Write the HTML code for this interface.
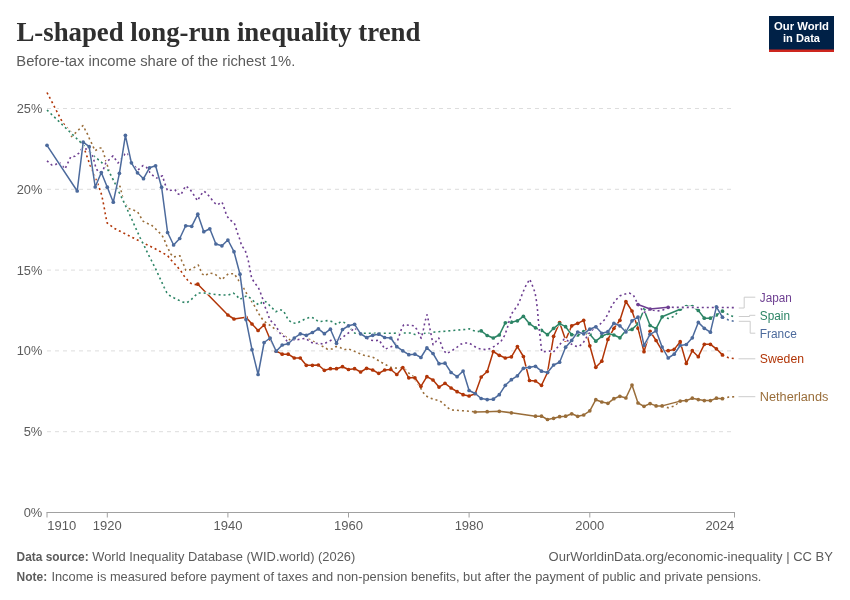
<!DOCTYPE html>
<html lang="en"><head><meta charset="utf-8"><title>L-shaped long-run inequality trend</title>
<style>html,body{margin:0;padding:0;background:#fff}svg{display:block}text{font-family:"Liberation Sans", sans-serif}.ttl{font-family:"Liberation Serif", serif;font-weight:700}.b{font-weight:700}</style></head><body>
<svg width="850" height="600" viewBox="0 0 850 600">
<rect width="850" height="600" fill="#fff"/>
<text class="ttl" x="16.4" y="40.5" font-size="27" fill="#2f2f2f" textLength="404" lengthAdjust="spacingAndGlyphs">L-shaped long-run inequality trend</text>
<text x="16.3" y="66.2" font-size="14.7" fill="#5b5b5b" textLength="279" lengthAdjust="spacingAndGlyphs">Before-tax income share of the richest 1%.</text>
<g><rect x="769" y="16" width="65" height="36" fill="#002147"/><rect x="769" y="49.5" width="65" height="2.5" fill="#ce261e"/>
<text x="801.5" y="30.2" text-anchor="middle" font-size="11.4" font-weight="700" fill="#fff" textLength="55" lengthAdjust="spacingAndGlyphs">Our World</text>
<text x="801.5" y="42.2" text-anchor="middle" font-size="11.4" font-weight="700" fill="#fff" textLength="37" lengthAdjust="spacingAndGlyphs">in Data</text></g>
<line x1="47" x2="734" y1="431.7" y2="431.7" stroke="#dddddd" stroke-dasharray="4,4"/>
<line x1="47" x2="734" y1="350.9" y2="350.9" stroke="#dddddd" stroke-dasharray="4,4"/>
<line x1="47" x2="734" y1="270.1" y2="270.1" stroke="#dddddd" stroke-dasharray="4,4"/>
<line x1="47" x2="734" y1="189.3" y2="189.3" stroke="#dddddd" stroke-dasharray="4,4"/>
<line x1="47" x2="734" y1="108.5" y2="108.5" stroke="#dddddd" stroke-dasharray="4,4"/>
<text x="23.7" y="517" font-size="13.2" fill="#5b5b5b" textLength="18.6" lengthAdjust="spacingAndGlyphs">0%</text>
<text x="23.7" y="436.2" font-size="13.2" fill="#5b5b5b" textLength="18.6" lengthAdjust="spacingAndGlyphs">5%</text>
<text x="16.7" y="355.4" font-size="13.2" fill="#5b5b5b" textLength="25.6" lengthAdjust="spacingAndGlyphs">10%</text>
<text x="16.7" y="274.6" font-size="13.2" fill="#5b5b5b" textLength="25.6" lengthAdjust="spacingAndGlyphs">15%</text>
<text x="16.7" y="193.8" font-size="13.2" fill="#5b5b5b" textLength="25.6" lengthAdjust="spacingAndGlyphs">20%</text>
<text x="16.7" y="113" font-size="13.2" fill="#5b5b5b" textLength="25.6" lengthAdjust="spacingAndGlyphs">25%</text>
<line x1="46.5" x2="735" y1="512.5" y2="512.5" stroke="#a1a1a1" stroke-width="1"/>
<line x1="47" x2="47" y1="512.5" y2="517.5" stroke="#a1a1a1"/>
<text x="47.3" y="530.4" text-anchor="start" font-size="13" fill="#5b5b5b">1910</text>
<line x1="107.3" x2="107.3" y1="512.5" y2="517.5" stroke="#a1a1a1"/>
<text x="107.3" y="530.4" text-anchor="middle" font-size="13" fill="#5b5b5b">1920</text>
<line x1="227.9" x2="227.9" y1="512.5" y2="517.5" stroke="#a1a1a1"/>
<text x="227.9" y="530.4" text-anchor="middle" font-size="13" fill="#5b5b5b">1940</text>
<line x1="348.5" x2="348.5" y1="512.5" y2="517.5" stroke="#a1a1a1"/>
<text x="348.5" y="530.4" text-anchor="middle" font-size="13" fill="#5b5b5b">1960</text>
<line x1="469.1" x2="469.1" y1="512.5" y2="517.5" stroke="#a1a1a1"/>
<text x="469.1" y="530.4" text-anchor="middle" font-size="13" fill="#5b5b5b">1980</text>
<line x1="589.8" x2="589.8" y1="512.5" y2="517.5" stroke="#a1a1a1"/>
<text x="589.8" y="530.4" text-anchor="middle" font-size="13" fill="#5b5b5b">2000</text>
<line x1="734.5" x2="734.5" y1="512.5" y2="517.5" stroke="#a1a1a1"/>
<text x="734.3" y="530.4" text-anchor="end" font-size="13" fill="#5b5b5b">2024</text>
<g fill="none" stroke-linejoin="round">
<path d="M71,137 L74.2,134.2 L83,125.5 L87.5,134.2 L90,140 L91.7,143.3 L95,150.8 L99.2,148 L102,148 L104.2,155 L105.8,160.8 L108.3,168.3 L111.7,178.3 L120,186.3 L121.2,191.2 L123.3,200.8 L128.3,208.3 L133.3,210 L137.5,211.7 L140,215.8 L142.5,220.8 L146.7,223.3 L150.8,224.5 L155,228.3 L158.3,231.5 L161.7,235 L164.2,239 L165.8,244 L168.3,249 L170.8,254 L173.3,257 L177.5,256.3 L180,255.8 L181.7,260.8 L184.2,265.8 L185.8,270.3 L190,269.7 L194.2,267.5 L198.3,265 L200,269.2 L202.5,274.2 L205,275.8 L209.2,273 L214.2,273.7 L218.3,276.7 L221.7,279.7 L225,276.7 L228.3,273.8 L234.2,273.7 L236.7,277.5 L240,282.5 L243.3,287.5 L245,290.8 L247.5,295 L250.8,300 L255,306.7 L257.5,311.7 L260,315.8 L263,320 L266.7,323.3 L270.8,325.8 L275,329.2 L279.2,331.7 L282.5,334.2 L286.7,337.5 L290,340 L296.7,340 L301,339 L306.7,338.3 L310.8,340 L315,342.5 L319.2,344.2 L323.3,346.7 L327.5,349.2 L332,349 L336,346.5 L340,347.5 L344.2,349.7 L348.3,348.7 L351.7,350.3 L356.7,352.2 L362.5,355 L368.3,356.2 L373.3,357.5 L377.5,360 L381.7,362.5 L385.8,364.7 L390,367.2 L395,368 L400,368.3 L403,368 L406.7,370.8 L410,374.2 L412.5,375.8 L415,379.2 L417.5,383 L420,386.7 L422.5,391.7 L425.8,395.8 L430,398 L435,399.7 L440,400.8 L443.3,403.7 L447.5,407.5 L450.8,410 L456.7,410.3 L463.3,410.8 L470,411.3 L475.2,412" stroke="#fff" stroke-width="2.5"/>
<path d="M71,137 L74.2,134.2 L83,125.5 L87.5,134.2 L90,140 L91.7,143.3 L95,150.8 L99.2,148 L102,148 L104.2,155 L105.8,160.8 L108.3,168.3 L111.7,178.3 L120,186.3 L121.2,191.2 L123.3,200.8 L128.3,208.3 L133.3,210 L137.5,211.7 L140,215.8 L142.5,220.8 L146.7,223.3 L150.8,224.5 L155,228.3 L158.3,231.5 L161.7,235 L164.2,239 L165.8,244 L168.3,249 L170.8,254 L173.3,257 L177.5,256.3 L180,255.8 L181.7,260.8 L184.2,265.8 L185.8,270.3 L190,269.7 L194.2,267.5 L198.3,265 L200,269.2 L202.5,274.2 L205,275.8 L209.2,273 L214.2,273.7 L218.3,276.7 L221.7,279.7 L225,276.7 L228.3,273.8 L234.2,273.7 L236.7,277.5 L240,282.5 L243.3,287.5 L245,290.8 L247.5,295 L250.8,300 L255,306.7 L257.5,311.7 L260,315.8 L263,320 L266.7,323.3 L270.8,325.8 L275,329.2 L279.2,331.7 L282.5,334.2 L286.7,337.5 L290,340 L296.7,340 L301,339 L306.7,338.3 L310.8,340 L315,342.5 L319.2,344.2 L323.3,346.7 L327.5,349.2 L332,349 L336,346.5 L340,347.5 L344.2,349.7 L348.3,348.7 L351.7,350.3 L356.7,352.2 L362.5,355 L368.3,356.2 L373.3,357.5 L377.5,360 L381.7,362.5 L385.8,364.7 L390,367.2 L395,368 L400,368.3 L403,368 L406.7,370.8 L410,374.2 L412.5,375.8 L415,379.2 L417.5,383 L420,386.7 L422.5,391.7 L425.8,395.8 L430,398 L435,399.7 L440,400.8 L443.3,403.7 L447.5,407.5 L450.8,410 L456.7,410.3 L463.3,410.8 L470,411.3 L475.2,412" stroke="#996D39" stroke-width="1.6" stroke-dasharray="2,3"/>
<path d="M662.1,405.9 L668.2,407.8 L674.2,406 L680.2,401.1" stroke="#fff" stroke-width="2.5"/>
<path d="M662.1,405.9 L668.2,407.8 L674.2,406 L680.2,401.1" stroke="#996D39" stroke-width="1.6" stroke-dasharray="2,3"/>
<path d="M722.4,398.7 L728.5,397.1 L734.5,396.8" stroke="#fff" stroke-width="2.5"/>
<path d="M722.4,398.7 L728.5,397.1 L734.5,396.8" stroke="#996D39" stroke-width="1.6" stroke-dasharray="2,3"/>
<path d="M475.2,412 L487.2,411.7 L499.3,411.3 L511.4,412.8 L535.5,416.2 L541.5,416.2 L547.5,419.5 L553.6,418.3 L559.6,416.7 L565.6,416.2 L571.7,413.8 L577.7,416.3 L583.7,415 L589.8,410.8 L595.8,399.7 L601.8,402 L607.9,403.3 L613.9,398.7 L619.9,396.3 L625.9,398 L632,385 L638,403 L644,406.3 L650.1,403.6 L656.1,405.9 L662.1,405.9 L680.2,401.1 L686.3,400.6 L692.3,398.2 L698.3,399.6 L704.3,400.6 L710.4,400.6 L716.4,398.2 L722.4,398.7" stroke="#fff" stroke-width="2.5"/>
<path d="M475.2,412 L487.2,411.7 L499.3,411.3 L511.4,412.8 L535.5,416.2 L541.5,416.2 L547.5,419.5 L553.6,418.3 L559.6,416.7 L565.6,416.2 L571.7,413.8 L577.7,416.3 L583.7,415 L589.8,410.8 L595.8,399.7 L601.8,402 L607.9,403.3 L613.9,398.7 L619.9,396.3 L625.9,398 L632,385 L638,403 L644,406.3 L650.1,403.6 L656.1,405.9 L662.1,405.9 L680.2,401.1 L686.3,400.6 L692.3,398.2 L698.3,399.6 L704.3,400.6 L710.4,400.6 L716.4,398.2 L722.4,398.7" stroke="#996D39" stroke-width="1.5"/>
</g>
<g fill="#996D39"><circle cx="475.2" cy="412" r="1.85"/><circle cx="487.2" cy="411.7" r="1.85"/><circle cx="499.3" cy="411.3" r="1.85"/><circle cx="511.4" cy="412.8" r="1.85"/><circle cx="535.5" cy="416.2" r="1.85"/><circle cx="541.5" cy="416.2" r="1.85"/><circle cx="547.5" cy="419.5" r="1.85"/><circle cx="553.6" cy="418.3" r="1.85"/><circle cx="559.6" cy="416.7" r="1.85"/><circle cx="565.6" cy="416.2" r="1.85"/><circle cx="571.7" cy="413.8" r="1.85"/><circle cx="577.7" cy="416.3" r="1.85"/><circle cx="583.7" cy="415" r="1.85"/><circle cx="589.8" cy="410.8" r="1.85"/><circle cx="595.8" cy="399.7" r="1.85"/><circle cx="601.8" cy="402" r="1.85"/><circle cx="607.9" cy="403.3" r="1.85"/><circle cx="613.9" cy="398.7" r="1.85"/><circle cx="619.9" cy="396.3" r="1.85"/><circle cx="625.9" cy="398" r="1.85"/><circle cx="632" cy="385" r="1.85"/><circle cx="638" cy="403" r="1.85"/><circle cx="644" cy="406.3" r="1.85"/><circle cx="650.1" cy="403.6" r="1.85"/><circle cx="656.1" cy="405.9" r="1.85"/><circle cx="662.1" cy="405.9" r="1.85"/><circle cx="680.2" cy="401.1" r="1.85"/><circle cx="686.3" cy="400.6" r="1.85"/><circle cx="692.3" cy="398.2" r="1.85"/><circle cx="698.3" cy="399.6" r="1.85"/><circle cx="704.3" cy="400.6" r="1.85"/><circle cx="710.4" cy="400.6" r="1.85"/><circle cx="716.4" cy="398.2" r="1.85"/><circle cx="722.4" cy="398.7" r="1.85"/></g>
<g fill="none" stroke-linejoin="round">
<path d="M47,92.5 L53.3,104.5 L60.8,119.2 L65,125.8 L72,133.5 L80,141.7 L85,150.8 L90,165 L95.8,179 L99.2,187.5 L101.7,195 L104.2,207.5 L105.8,216.7 L107.2,223 L114.2,228.3 L127.5,235 L140.8,241.7 L154.2,248.3 L167.5,255.5 L170.8,259.7 L174.2,263.3 L177.5,267 L180.8,270.8 L183.3,275 L187.5,280 L190.8,283.3 L194.2,284.7 L197.7,284.2" stroke="#fff" stroke-width="2.5"/>
<path d="M47,92.5 L53.3,104.5 L60.8,119.2 L65,125.8 L72,133.5 L80,141.7 L85,150.8 L90,165 L95.8,179 L99.2,187.5 L101.7,195 L104.2,207.5 L105.8,216.7 L107.2,223 L114.2,228.3 L127.5,235 L140.8,241.7 L154.2,248.3 L167.5,255.5 L170.8,259.7 L174.2,263.3 L177.5,267 L180.8,270.8 L183.3,275 L187.5,280 L190.8,283.3 L194.2,284.7 L197.7,284.2" stroke="#B13507" stroke-width="1.6" stroke-dasharray="2,3"/>
<path d="M722.4,354.9 L728.5,357.7 L734.5,358.7" stroke="#fff" stroke-width="2.5"/>
<path d="M722.4,354.9 L728.5,357.7 L734.5,358.7" stroke="#B13507" stroke-width="1.6" stroke-dasharray="2,3"/>
<path d="M197.8,284.2 L227.9,315 L234,319 L246,317.3 L252,324 L258.1,330.5 L264.1,325 L270.1,339.2 L276.2,351.2 L282.2,354.2 L288.2,354.2 L294.3,358 L300.3,358 L306.3,365.3 L312.4,365.3 L318.4,365 L324.4,370.3 L330.4,368.7 L336.5,368.7 L342.5,366.7 L348.5,369.5 L354.6,368.7 L360.6,372 L366.6,368.3 L372.7,370 L378.7,373.3 L384.7,370 L390.8,369.5 L396.8,374.5 L402.8,367.5 L408.8,377.8 L414.9,377.8 L420.9,386.3 L426.9,376.7 L433,380 L439,387.1 L445,383.3 L451.1,388 L457.1,391.7 L463.1,394.7 L469.1,396 L475.2,393.7 L481.2,377 L487.2,371.5 L493.3,351.5 L499.3,355.3 L505.3,358 L511.4,356.8 L517.4,346.6 L523.4,356.5 L529.5,380.5 L535.5,381 L541.5,385.3 L547.5,372.5 L553.6,336.3 L559.6,322.5 L565.6,340 L571.7,325.8 L577.7,323.3 L583.7,320.3 L589.8,345.8 L595.8,367.3 L601.8,361.2 L607.9,339.4 L613.9,328.3 L619.9,320.3 L625.9,301.5 L632,311 L638,328.2 L644,351.7 L650.1,331.3 L656.1,340.5 L662.1,350.7 L668.2,350.7 L674.2,349.4 L680.2,341.7 L686.3,363.4 L692.3,350.7 L698.3,356.7 L704.3,344.3 L710.4,344.3 L716.4,348.8 L722.4,354.9" stroke="#fff" stroke-width="2.5"/>
<path d="M197.8,284.2 L227.9,315 L234,319 L246,317.3 L252,324 L258.1,330.5 L264.1,325 L270.1,339.2 L276.2,351.2 L282.2,354.2 L288.2,354.2 L294.3,358 L300.3,358 L306.3,365.3 L312.4,365.3 L318.4,365 L324.4,370.3 L330.4,368.7 L336.5,368.7 L342.5,366.7 L348.5,369.5 L354.6,368.7 L360.6,372 L366.6,368.3 L372.7,370 L378.7,373.3 L384.7,370 L390.8,369.5 L396.8,374.5 L402.8,367.5 L408.8,377.8 L414.9,377.8 L420.9,386.3 L426.9,376.7 L433,380 L439,387.1 L445,383.3 L451.1,388 L457.1,391.7 L463.1,394.7 L469.1,396 L475.2,393.7 L481.2,377 L487.2,371.5 L493.3,351.5 L499.3,355.3 L505.3,358 L511.4,356.8 L517.4,346.6 L523.4,356.5 L529.5,380.5 L535.5,381 L541.5,385.3 L547.5,372.5 L553.6,336.3 L559.6,322.5 L565.6,340 L571.7,325.8 L577.7,323.3 L583.7,320.3 L589.8,345.8 L595.8,367.3 L601.8,361.2 L607.9,339.4 L613.9,328.3 L619.9,320.3 L625.9,301.5 L632,311 L638,328.2 L644,351.7 L650.1,331.3 L656.1,340.5 L662.1,350.7 L668.2,350.7 L674.2,349.4 L680.2,341.7 L686.3,363.4 L692.3,350.7 L698.3,356.7 L704.3,344.3 L710.4,344.3 L716.4,348.8 L722.4,354.9" stroke="#B13507" stroke-width="1.5"/>
</g>
<g fill="#B13507"><circle cx="197.8" cy="284.2" r="1.85"/><circle cx="227.9" cy="315" r="1.85"/><circle cx="234" cy="319" r="1.85"/><circle cx="246" cy="317.3" r="1.85"/><circle cx="252" cy="324" r="1.85"/><circle cx="258.1" cy="330.5" r="1.85"/><circle cx="264.1" cy="325" r="1.85"/><circle cx="270.1" cy="339.2" r="1.85"/><circle cx="276.2" cy="351.2" r="1.85"/><circle cx="282.2" cy="354.2" r="1.85"/><circle cx="288.2" cy="354.2" r="1.85"/><circle cx="294.3" cy="358" r="1.85"/><circle cx="300.3" cy="358" r="1.85"/><circle cx="306.3" cy="365.3" r="1.85"/><circle cx="312.4" cy="365.3" r="1.85"/><circle cx="318.4" cy="365" r="1.85"/><circle cx="324.4" cy="370.3" r="1.85"/><circle cx="330.4" cy="368.7" r="1.85"/><circle cx="336.5" cy="368.7" r="1.85"/><circle cx="342.5" cy="366.7" r="1.85"/><circle cx="348.5" cy="369.5" r="1.85"/><circle cx="354.6" cy="368.7" r="1.85"/><circle cx="360.6" cy="372" r="1.85"/><circle cx="366.6" cy="368.3" r="1.85"/><circle cx="372.7" cy="370" r="1.85"/><circle cx="378.7" cy="373.3" r="1.85"/><circle cx="384.7" cy="370" r="1.85"/><circle cx="390.8" cy="369.5" r="1.85"/><circle cx="396.8" cy="374.5" r="1.85"/><circle cx="402.8" cy="367.5" r="1.85"/><circle cx="408.8" cy="377.8" r="1.85"/><circle cx="414.9" cy="377.8" r="1.85"/><circle cx="420.9" cy="386.3" r="1.85"/><circle cx="426.9" cy="376.7" r="1.85"/><circle cx="433" cy="380" r="1.85"/><circle cx="439" cy="387.1" r="1.85"/><circle cx="445" cy="383.3" r="1.85"/><circle cx="451.1" cy="388" r="1.85"/><circle cx="457.1" cy="391.7" r="1.85"/><circle cx="463.1" cy="394.7" r="1.85"/><circle cx="469.1" cy="396" r="1.85"/><circle cx="475.2" cy="393.7" r="1.85"/><circle cx="481.2" cy="377" r="1.85"/><circle cx="487.2" cy="371.5" r="1.85"/><circle cx="493.3" cy="351.5" r="1.85"/><circle cx="499.3" cy="355.3" r="1.85"/><circle cx="505.3" cy="358" r="1.85"/><circle cx="511.4" cy="356.8" r="1.85"/><circle cx="517.4" cy="346.6" r="1.85"/><circle cx="523.4" cy="356.5" r="1.85"/><circle cx="529.5" cy="380.5" r="1.85"/><circle cx="535.5" cy="381" r="1.85"/><circle cx="541.5" cy="385.3" r="1.85"/><circle cx="547.5" cy="372.5" r="1.85"/><circle cx="553.6" cy="336.3" r="1.85"/><circle cx="559.6" cy="322.5" r="1.85"/><circle cx="565.6" cy="340" r="1.85"/><circle cx="571.7" cy="325.8" r="1.85"/><circle cx="577.7" cy="323.3" r="1.85"/><circle cx="583.7" cy="320.3" r="1.85"/><circle cx="589.8" cy="345.8" r="1.85"/><circle cx="595.8" cy="367.3" r="1.85"/><circle cx="601.8" cy="361.2" r="1.85"/><circle cx="607.9" cy="339.4" r="1.85"/><circle cx="613.9" cy="328.3" r="1.85"/><circle cx="619.9" cy="320.3" r="1.85"/><circle cx="625.9" cy="301.5" r="1.85"/><circle cx="632" cy="311" r="1.85"/><circle cx="638" cy="328.2" r="1.85"/><circle cx="644" cy="351.7" r="1.85"/><circle cx="650.1" cy="331.3" r="1.85"/><circle cx="656.1" cy="340.5" r="1.85"/><circle cx="662.1" cy="350.7" r="1.85"/><circle cx="668.2" cy="350.7" r="1.85"/><circle cx="674.2" cy="349.4" r="1.85"/><circle cx="680.2" cy="341.7" r="1.85"/><circle cx="686.3" cy="363.4" r="1.85"/><circle cx="692.3" cy="350.7" r="1.85"/><circle cx="698.3" cy="356.7" r="1.85"/><circle cx="704.3" cy="344.3" r="1.85"/><circle cx="710.4" cy="344.3" r="1.85"/><circle cx="716.4" cy="348.8" r="1.85"/><circle cx="722.4" cy="354.9" r="1.85"/></g>
<g fill="none" stroke-linejoin="round">
<path d="M47,110 L80,141.7 L94,156 L101.7,162.5 L108,170 L110.8,175 L115,183.3 L119.2,192.5 L123.3,200.8 L127.5,210 L131.7,219 L135.8,228.3 L140,237.5 L144.2,245.8 L148.3,254.5 L151.7,261 L155.8,269.2 L160,278.3 L164.2,287.5 L166.7,292.5 L170,295.8 L174.2,298 L178.3,300 L182.5,302 L186.7,302.8 L190.8,300 L195,295.8 L198.3,293 L203.3,293 L208.3,293.3 L213.3,294.2 L218.3,294.7 L223.3,295 L228.3,295 L233.3,293 L236.7,295.8 L240,299.5 L243.5,297 L247.5,295.8 L251.7,299.2 L255,302.6 L259.2,305 L263,301.3 L265.8,301.7 L269.2,305 L272.5,308.3 L275.8,311.7 L280,309.7 L283.3,310.8 L285.8,315 L288.3,320 L292.5,323 L296.7,323.3 L300.8,321.2 L305.8,318.7 L310.8,317 L315,318.7 L318.3,321.7 L323.3,321.2 L328.3,320.5 L332.5,321.7 L336.7,324.7 L340.8,321.7 L344.2,322.5 L348.3,325.8 L351.7,330 L355,333.3 L360,333.3 L370,333.3 L380,333.3 L390,333.3 L400,333 L410,333 L415,334.5 L420,333.8 L425,333.3 L430,333 L435,332 L445,331.2 L455,330.3 L465,329.5 L469.2,328.8 L473.3,330.5 L477.5,331.7 L481.2,330.8" stroke="#fff" stroke-width="2.5"/>
<path d="M47,110 L80,141.7 L94,156 L101.7,162.5 L108,170 L110.8,175 L115,183.3 L119.2,192.5 L123.3,200.8 L127.5,210 L131.7,219 L135.8,228.3 L140,237.5 L144.2,245.8 L148.3,254.5 L151.7,261 L155.8,269.2 L160,278.3 L164.2,287.5 L166.7,292.5 L170,295.8 L174.2,298 L178.3,300 L182.5,302 L186.7,302.8 L190.8,300 L195,295.8 L198.3,293 L203.3,293 L208.3,293.3 L213.3,294.2 L218.3,294.7 L223.3,295 L228.3,295 L233.3,293 L236.7,295.8 L240,299.5 L243.5,297 L247.5,295.8 L251.7,299.2 L255,302.6 L259.2,305 L263,301.3 L265.8,301.7 L269.2,305 L272.5,308.3 L275.8,311.7 L280,309.7 L283.3,310.8 L285.8,315 L288.3,320 L292.5,323 L296.7,323.3 L300.8,321.2 L305.8,318.7 L310.8,317 L315,318.7 L318.3,321.7 L323.3,321.2 L328.3,320.5 L332.5,321.7 L336.7,324.7 L340.8,321.7 L344.2,322.5 L348.3,325.8 L351.7,330 L355,333.3 L360,333.3 L370,333.3 L380,333.3 L390,333.3 L400,333 L410,333 L415,334.5 L420,333.8 L425,333.3 L430,333 L435,332 L445,331.2 L455,330.3 L465,329.5 L469.2,328.8 L473.3,330.5 L477.5,331.7 L481.2,330.8" stroke="#2C8465" stroke-width="1.6" stroke-dasharray="2,3"/>
<path d="M662.1,316.8 L668.2,318.4 L674.2,316.3 L680.2,309.2" stroke="#fff" stroke-width="2.5"/>
<path d="M662.1,316.8 L668.2,318.4 L674.2,316.3 L680.2,309.2" stroke="#2C8465" stroke-width="1.6" stroke-dasharray="2,3"/>
<path d="M722.4,311.1 L728.5,314.6 L734.5,317.2" stroke="#fff" stroke-width="2.5"/>
<path d="M722.4,311.1 L728.5,314.6 L734.5,317.2" stroke="#2C8465" stroke-width="1.6" stroke-dasharray="2,3"/>
<path d="M481.2,330.8 L487.2,335.5 L493.3,338 L499.3,335 L505.3,322.8 L511.4,322.2 L517.4,320.8 L523.4,316.3 L529.5,323.7 L535.5,327.8 L541.5,330.3 L547.5,334.7 L553.6,328.3 L559.6,323.7 L565.6,326.7 L571.7,334.7 L577.7,335 L583.7,331.7 L589.8,334.2 L595.8,341.2 L601.8,336.3 L607.9,333.5 L613.9,335 L619.9,337.8 L625.9,330.5 L632,329.4 L638,323.8 L644,309.7 L650.1,325.5 L656.1,328.7 L662.1,316.8 L680.2,309.2 L686.3,306.5 L692.3,306.5 L698.3,310.4 L704.3,318.2 L710.4,318.2 L716.4,315 L722.4,311.1" stroke="#fff" stroke-width="2.5"/>
<path d="M481.2,330.8 L487.2,335.5 L493.3,338 L499.3,335 L505.3,322.8 L511.4,322.2 L517.4,320.8 L523.4,316.3 L529.5,323.7 L535.5,327.8 L541.5,330.3 L547.5,334.7 L553.6,328.3 L559.6,323.7 L565.6,326.7 L571.7,334.7 L577.7,335 L583.7,331.7 L589.8,334.2 L595.8,341.2 L601.8,336.3 L607.9,333.5 L613.9,335 L619.9,337.8 L625.9,330.5 L632,329.4 L638,323.8 L644,309.7 L650.1,325.5 L656.1,328.7 L662.1,316.8 L680.2,309.2 L686.3,306.5 L692.3,306.5 L698.3,310.4 L704.3,318.2 L710.4,318.2 L716.4,315 L722.4,311.1" stroke="#2C8465" stroke-width="1.5"/>
</g>
<g fill="#2C8465"><circle cx="481.2" cy="330.8" r="1.85"/><circle cx="487.2" cy="335.5" r="1.85"/><circle cx="493.3" cy="338" r="1.85"/><circle cx="499.3" cy="335" r="1.85"/><circle cx="505.3" cy="322.8" r="1.85"/><circle cx="511.4" cy="322.2" r="1.85"/><circle cx="517.4" cy="320.8" r="1.85"/><circle cx="523.4" cy="316.3" r="1.85"/><circle cx="529.5" cy="323.7" r="1.85"/><circle cx="535.5" cy="327.8" r="1.85"/><circle cx="541.5" cy="330.3" r="1.85"/><circle cx="547.5" cy="334.7" r="1.85"/><circle cx="553.6" cy="328.3" r="1.85"/><circle cx="559.6" cy="323.7" r="1.85"/><circle cx="565.6" cy="326.7" r="1.85"/><circle cx="571.7" cy="334.7" r="1.85"/><circle cx="577.7" cy="335" r="1.85"/><circle cx="583.7" cy="331.7" r="1.85"/><circle cx="589.8" cy="334.2" r="1.85"/><circle cx="595.8" cy="341.2" r="1.85"/><circle cx="601.8" cy="336.3" r="1.85"/><circle cx="607.9" cy="333.5" r="1.85"/><circle cx="613.9" cy="335" r="1.85"/><circle cx="619.9" cy="337.8" r="1.85"/><circle cx="625.9" cy="330.5" r="1.85"/><circle cx="632" cy="329.4" r="1.85"/><circle cx="638" cy="323.8" r="1.85"/><circle cx="644" cy="309.7" r="1.85"/><circle cx="650.1" cy="325.5" r="1.85"/><circle cx="656.1" cy="328.7" r="1.85"/><circle cx="662.1" cy="316.8" r="1.85"/><circle cx="680.2" cy="309.2" r="1.85"/><circle cx="686.3" cy="306.5" r="1.85"/><circle cx="692.3" cy="306.5" r="1.85"/><circle cx="698.3" cy="310.4" r="1.85"/><circle cx="704.3" cy="318.2" r="1.85"/><circle cx="710.4" cy="318.2" r="1.85"/><circle cx="716.4" cy="315" r="1.85"/><circle cx="722.4" cy="311.1" r="1.85"/></g>
<g fill="none" stroke-linejoin="round">
<path d="M47,160.8 L51.7,165 L55,165 L59,162 L65,169 L70.8,156.7 L75,156.3 L79,153 L81.7,149 L87.5,149 L93,156.7 L95.8,167.5 L98,171.7 L102.5,171.7 L105.8,163 L113,155.8 L118,163 L125,154 L127.5,153 L132.5,164 L138,170 L143,165.5 L146.7,167.5 L150.8,174 L156.7,178 L162.5,175.8 L164.2,181.7 L167.5,190.8 L170.8,190.3 L175,189.8 L177.5,193.7 L180.8,195 L183.3,190 L185.8,185.8 L190,189.2 L193.3,194.2 L197.5,200.8 L200.8,195 L204.2,191.2 L207.5,194.2 L210.8,198.3 L214.2,202.5 L217.2,205 L222,202 L223.7,206.7 L226.7,215.8 L230,220 L234.2,222.8 L235.8,227.5 L237.5,233 L239.2,237.5 L241.7,245.8 L245,250 L246.7,255 L248.3,260.8 L249.2,265 L250,270 L251.7,278.3 L255,283.3 L258.3,287.5 L260,291.5 L262.5,298.3 L264.2,305 L266.7,310.8 L268.3,315.5 L270,320 L273.3,323.3 L276.7,326.6 L278.3,330.8 L280.8,334.2 L284.2,336.7 L286.7,340.8 L288.3,343.7 L293.3,340 L297.5,339.7 L301.7,338.8 L305.8,338.3 L310,341.7 L314.2,343.7 L319.2,343 L323.3,344.2 L327.5,342 L331.7,340 L339.2,339.7 L342.5,337.5 L346.7,334.2 L350.8,331.3 L354.7,327.8 L360.7,333.3 L366.7,338 L370,340 L375,340.8 L379.2,340 L381.7,344.2 L385,349.2 L389.2,347.5 L393.3,345.8 L397.5,340.8 L400,333.3 L401.7,328.3 L403.8,324.7 L408.8,325.3 L414.2,325.8 L416.7,329.2 L419.2,334.2 L421.2,338.3 L423.3,330 L425,321.7 L427,314.7 L428.3,320 L430,329.2 L431.7,337.5 L433,344.7 L435.8,341.7 L438.8,338 L440.8,343.3 L443.3,350 L446.7,353.7 L451.7,350.8 L456.7,347.5 L460.8,344.2 L464.2,343 L469.2,343 L473.3,345.8 L477.5,348.2 L481.7,349.2 L486.7,349.7 L491.7,348 L495.8,345.3 L500.8,341.7 L504.4,335.8 L507,329.2 L509,321.7 L511.3,314.2 L514.2,310 L517.5,305.8 L520,300 L522.5,293.3 L525.8,285.8 L529.7,279.2 L532.5,285.8 L535,292.5 L536.3,300 L537.5,310 L538.3,320 L539.7,333.3 L540.8,343.3 L541.7,351.7 L545.8,351.5 L550,351 L553.3,352.3 L556.7,348.3 L560.8,343.3 L564.2,339 L567,340 L570.5,343.5 L574.5,346 L578.8,346.6 L582.8,343.5 L586.7,337 L590,332 L595,327.5 L600,324.2 L605,319.2 L608.3,313.3 L611.7,305.8 L615.8,300 L620,295.8 L624.2,294.2 L629.2,293 L633.3,295 L635.8,300 L638,304.5 L644,312.5 L650.1,309 L656.1,311 L662.1,310.4 L668.2,307.3 L734.5,307.6" stroke="#fff" stroke-width="2.5"/>
<path d="M47,160.8 L51.7,165 L55,165 L59,162 L65,169 L70.8,156.7 L75,156.3 L79,153 L81.7,149 L87.5,149 L93,156.7 L95.8,167.5 L98,171.7 L102.5,171.7 L105.8,163 L113,155.8 L118,163 L125,154 L127.5,153 L132.5,164 L138,170 L143,165.5 L146.7,167.5 L150.8,174 L156.7,178 L162.5,175.8 L164.2,181.7 L167.5,190.8 L170.8,190.3 L175,189.8 L177.5,193.7 L180.8,195 L183.3,190 L185.8,185.8 L190,189.2 L193.3,194.2 L197.5,200.8 L200.8,195 L204.2,191.2 L207.5,194.2 L210.8,198.3 L214.2,202.5 L217.2,205 L222,202 L223.7,206.7 L226.7,215.8 L230,220 L234.2,222.8 L235.8,227.5 L237.5,233 L239.2,237.5 L241.7,245.8 L245,250 L246.7,255 L248.3,260.8 L249.2,265 L250,270 L251.7,278.3 L255,283.3 L258.3,287.5 L260,291.5 L262.5,298.3 L264.2,305 L266.7,310.8 L268.3,315.5 L270,320 L273.3,323.3 L276.7,326.6 L278.3,330.8 L280.8,334.2 L284.2,336.7 L286.7,340.8 L288.3,343.7 L293.3,340 L297.5,339.7 L301.7,338.8 L305.8,338.3 L310,341.7 L314.2,343.7 L319.2,343 L323.3,344.2 L327.5,342 L331.7,340 L339.2,339.7 L342.5,337.5 L346.7,334.2 L350.8,331.3 L354.7,327.8 L360.7,333.3 L366.7,338 L370,340 L375,340.8 L379.2,340 L381.7,344.2 L385,349.2 L389.2,347.5 L393.3,345.8 L397.5,340.8 L400,333.3 L401.7,328.3 L403.8,324.7 L408.8,325.3 L414.2,325.8 L416.7,329.2 L419.2,334.2 L421.2,338.3 L423.3,330 L425,321.7 L427,314.7 L428.3,320 L430,329.2 L431.7,337.5 L433,344.7 L435.8,341.7 L438.8,338 L440.8,343.3 L443.3,350 L446.7,353.7 L451.7,350.8 L456.7,347.5 L460.8,344.2 L464.2,343 L469.2,343 L473.3,345.8 L477.5,348.2 L481.7,349.2 L486.7,349.7 L491.7,348 L495.8,345.3 L500.8,341.7 L504.4,335.8 L507,329.2 L509,321.7 L511.3,314.2 L514.2,310 L517.5,305.8 L520,300 L522.5,293.3 L525.8,285.8 L529.7,279.2 L532.5,285.8 L535,292.5 L536.3,300 L537.5,310 L538.3,320 L539.7,333.3 L540.8,343.3 L541.7,351.7 L545.8,351.5 L550,351 L553.3,352.3 L556.7,348.3 L560.8,343.3 L564.2,339 L567,340 L570.5,343.5 L574.5,346 L578.8,346.6 L582.8,343.5 L586.7,337 L590,332 L595,327.5 L600,324.2 L605,319.2 L608.3,313.3 L611.7,305.8 L615.8,300 L620,295.8 L624.2,294.2 L629.2,293 L633.3,295 L635.8,300 L638,304.5 L644,312.5 L650.1,309 L656.1,311 L662.1,310.4 L668.2,307.3 L734.5,307.6" stroke="#6D3E91" stroke-width="1.6" stroke-dasharray="2,3"/>
<path d="M638,304.5 L650.1,309 L668.2,307.3" stroke="#fff" stroke-width="2.5"/>
<path d="M638,304.5 L650.1,309 L668.2,307.3" stroke="#6D3E91" stroke-width="1.5"/>
</g>
<g fill="#6D3E91"><circle cx="638" cy="304.5" r="1.85"/><circle cx="650.1" cy="309" r="1.85"/><circle cx="668.2" cy="307.3" r="1.85"/></g>
<g fill="none" stroke-linejoin="round">
<path d="M722.4,317.2 L728.5,320 L734.5,321.4" stroke="#fff" stroke-width="2.5"/>
<path d="M722.4,317.2 L728.5,320 L734.5,321.4" stroke="#4C6A9C" stroke-width="1.6" stroke-dasharray="2,3"/>
<path d="M47,145.3 L77.2,191 L83.2,142.2 L89.2,146.7 L95.2,187 L101.3,172.5 L107.3,187.2 L113.3,202.2 L119.4,173.3 L125.4,135.3 L131.4,162.8 L137.5,172.8 L143.5,178.7 L149.5,167.8 L155.6,165.8 L161.6,187.2 L167.6,232.5 L173.6,245 L179.7,238.5 L185.7,225.8 L191.7,226.3 L197.8,214.2 L203.8,231.7 L209.8,228.8 L215.9,244 L221.9,245.8 L227.9,240 L234,251.7 L240,274.2 L246,319.6 L252,349.7 L258.1,374.5 L264.1,342.5 L270.1,338 L276.2,351.2 L282.2,345 L288.2,343.7 L294.3,338 L300.3,333.8 L306.3,335.3 L312.4,332.5 L318.4,328.8 L324.4,333.7 L330.4,329.2 L336.5,343.3 L342.5,329.5 L348.5,325.8 L354.6,324.3 L360.6,333.8 L366.6,337.5 L372.7,335.3 L378.7,334.2 L384.7,337.5 L390.8,338 L396.8,346.7 L402.8,350.8 L408.8,354.7 L414.9,354.2 L420.9,357.5 L426.9,347.9 L433,353.5 L439,363.7 L445,363.2 L451.1,372.5 L457.1,376.7 L463.1,371 L469.1,390.5 L475.2,393.5 L481.2,398.5 L487.2,399.6 L493.3,399.2 L499.3,394.7 L505.3,385.3 L511.4,379.7 L517.4,375.8 L523.4,368.3 L529.5,367.3 L535.5,366.3 L541.5,371.2 L547.5,372.5 L553.6,365 L559.6,362.2 L565.6,347.2 L571.7,340.4 L577.7,332 L583.7,333.8 L589.8,329.2 L595.8,326.8 L601.8,333.3 L607.9,331.7 L613.9,323.3 L619.9,325.8 L625.9,332 L632,320.8 L638,317 L644,345.3 L650.1,334.3 L656.1,330.8 L662.1,347 L668.2,358 L674.2,354.2 L680.2,345.5 L686.3,344.5 L692.3,337.8 L698.3,322.4 L704.3,328.3 L710.4,332.2 L716.4,306.8 L722.4,317.2" stroke="#fff" stroke-width="2.5"/>
<path d="M47,145.3 L77.2,191 L83.2,142.2 L89.2,146.7 L95.2,187 L101.3,172.5 L107.3,187.2 L113.3,202.2 L119.4,173.3 L125.4,135.3 L131.4,162.8 L137.5,172.8 L143.5,178.7 L149.5,167.8 L155.6,165.8 L161.6,187.2 L167.6,232.5 L173.6,245 L179.7,238.5 L185.7,225.8 L191.7,226.3 L197.8,214.2 L203.8,231.7 L209.8,228.8 L215.9,244 L221.9,245.8 L227.9,240 L234,251.7 L240,274.2 L246,319.6 L252,349.7 L258.1,374.5 L264.1,342.5 L270.1,338 L276.2,351.2 L282.2,345 L288.2,343.7 L294.3,338 L300.3,333.8 L306.3,335.3 L312.4,332.5 L318.4,328.8 L324.4,333.7 L330.4,329.2 L336.5,343.3 L342.5,329.5 L348.5,325.8 L354.6,324.3 L360.6,333.8 L366.6,337.5 L372.7,335.3 L378.7,334.2 L384.7,337.5 L390.8,338 L396.8,346.7 L402.8,350.8 L408.8,354.7 L414.9,354.2 L420.9,357.5 L426.9,347.9 L433,353.5 L439,363.7 L445,363.2 L451.1,372.5 L457.1,376.7 L463.1,371 L469.1,390.5 L475.2,393.5 L481.2,398.5 L487.2,399.6 L493.3,399.2 L499.3,394.7 L505.3,385.3 L511.4,379.7 L517.4,375.8 L523.4,368.3 L529.5,367.3 L535.5,366.3 L541.5,371.2 L547.5,372.5 L553.6,365 L559.6,362.2 L565.6,347.2 L571.7,340.4 L577.7,332 L583.7,333.8 L589.8,329.2 L595.8,326.8 L601.8,333.3 L607.9,331.7 L613.9,323.3 L619.9,325.8 L625.9,332 L632,320.8 L638,317 L644,345.3 L650.1,334.3 L656.1,330.8 L662.1,347 L668.2,358 L674.2,354.2 L680.2,345.5 L686.3,344.5 L692.3,337.8 L698.3,322.4 L704.3,328.3 L710.4,332.2 L716.4,306.8 L722.4,317.2" stroke="#4C6A9C" stroke-width="1.5"/>
</g>
<g fill="#4C6A9C"><circle cx="47" cy="145.3" r="1.85"/><circle cx="77.2" cy="191" r="1.85"/><circle cx="83.2" cy="142.2" r="1.85"/><circle cx="89.2" cy="146.7" r="1.85"/><circle cx="95.2" cy="187" r="1.85"/><circle cx="101.3" cy="172.5" r="1.85"/><circle cx="107.3" cy="187.2" r="1.85"/><circle cx="113.3" cy="202.2" r="1.85"/><circle cx="119.4" cy="173.3" r="1.85"/><circle cx="125.4" cy="135.3" r="1.85"/><circle cx="131.4" cy="162.8" r="1.85"/><circle cx="137.5" cy="172.8" r="1.85"/><circle cx="143.5" cy="178.7" r="1.85"/><circle cx="149.5" cy="167.8" r="1.85"/><circle cx="155.6" cy="165.8" r="1.85"/><circle cx="161.6" cy="187.2" r="1.85"/><circle cx="167.6" cy="232.5" r="1.85"/><circle cx="173.6" cy="245" r="1.85"/><circle cx="179.7" cy="238.5" r="1.85"/><circle cx="185.7" cy="225.8" r="1.85"/><circle cx="191.7" cy="226.3" r="1.85"/><circle cx="197.8" cy="214.2" r="1.85"/><circle cx="203.8" cy="231.7" r="1.85"/><circle cx="209.8" cy="228.8" r="1.85"/><circle cx="215.9" cy="244" r="1.85"/><circle cx="221.9" cy="245.8" r="1.85"/><circle cx="227.9" cy="240" r="1.85"/><circle cx="234" cy="251.7" r="1.85"/><circle cx="240" cy="274.2" r="1.85"/><circle cx="246" cy="319.6" r="1.85"/><circle cx="252" cy="349.7" r="1.85"/><circle cx="258.1" cy="374.5" r="1.85"/><circle cx="264.1" cy="342.5" r="1.85"/><circle cx="270.1" cy="338" r="1.85"/><circle cx="276.2" cy="351.2" r="1.85"/><circle cx="282.2" cy="345" r="1.85"/><circle cx="288.2" cy="343.7" r="1.85"/><circle cx="294.3" cy="338" r="1.85"/><circle cx="300.3" cy="333.8" r="1.85"/><circle cx="306.3" cy="335.3" r="1.85"/><circle cx="312.4" cy="332.5" r="1.85"/><circle cx="318.4" cy="328.8" r="1.85"/><circle cx="324.4" cy="333.7" r="1.85"/><circle cx="330.4" cy="329.2" r="1.85"/><circle cx="336.5" cy="343.3" r="1.85"/><circle cx="342.5" cy="329.5" r="1.85"/><circle cx="348.5" cy="325.8" r="1.85"/><circle cx="354.6" cy="324.3" r="1.85"/><circle cx="360.6" cy="333.8" r="1.85"/><circle cx="366.6" cy="337.5" r="1.85"/><circle cx="372.7" cy="335.3" r="1.85"/><circle cx="378.7" cy="334.2" r="1.85"/><circle cx="384.7" cy="337.5" r="1.85"/><circle cx="390.8" cy="338" r="1.85"/><circle cx="396.8" cy="346.7" r="1.85"/><circle cx="402.8" cy="350.8" r="1.85"/><circle cx="408.8" cy="354.7" r="1.85"/><circle cx="414.9" cy="354.2" r="1.85"/><circle cx="420.9" cy="357.5" r="1.85"/><circle cx="426.9" cy="347.9" r="1.85"/><circle cx="433" cy="353.5" r="1.85"/><circle cx="439" cy="363.7" r="1.85"/><circle cx="445" cy="363.2" r="1.85"/><circle cx="451.1" cy="372.5" r="1.85"/><circle cx="457.1" cy="376.7" r="1.85"/><circle cx="463.1" cy="371" r="1.85"/><circle cx="469.1" cy="390.5" r="1.85"/><circle cx="475.2" cy="393.5" r="1.85"/><circle cx="481.2" cy="398.5" r="1.85"/><circle cx="487.2" cy="399.6" r="1.85"/><circle cx="493.3" cy="399.2" r="1.85"/><circle cx="499.3" cy="394.7" r="1.85"/><circle cx="505.3" cy="385.3" r="1.85"/><circle cx="511.4" cy="379.7" r="1.85"/><circle cx="517.4" cy="375.8" r="1.85"/><circle cx="523.4" cy="368.3" r="1.85"/><circle cx="529.5" cy="367.3" r="1.85"/><circle cx="535.5" cy="366.3" r="1.85"/><circle cx="541.5" cy="371.2" r="1.85"/><circle cx="547.5" cy="372.5" r="1.85"/><circle cx="553.6" cy="365" r="1.85"/><circle cx="559.6" cy="362.2" r="1.85"/><circle cx="565.6" cy="347.2" r="1.85"/><circle cx="571.7" cy="340.4" r="1.85"/><circle cx="577.7" cy="332" r="1.85"/><circle cx="583.7" cy="333.8" r="1.85"/><circle cx="589.8" cy="329.2" r="1.85"/><circle cx="595.8" cy="326.8" r="1.85"/><circle cx="601.8" cy="333.3" r="1.85"/><circle cx="607.9" cy="331.7" r="1.85"/><circle cx="613.9" cy="323.3" r="1.85"/><circle cx="619.9" cy="325.8" r="1.85"/><circle cx="625.9" cy="332" r="1.85"/><circle cx="632" cy="320.8" r="1.85"/><circle cx="638" cy="317" r="1.85"/><circle cx="644" cy="345.3" r="1.85"/><circle cx="650.1" cy="334.3" r="1.85"/><circle cx="656.1" cy="330.8" r="1.85"/><circle cx="662.1" cy="347" r="1.85"/><circle cx="668.2" cy="358" r="1.85"/><circle cx="674.2" cy="354.2" r="1.85"/><circle cx="680.2" cy="345.5" r="1.85"/><circle cx="686.3" cy="344.5" r="1.85"/><circle cx="692.3" cy="337.8" r="1.85"/><circle cx="698.3" cy="322.4" r="1.85"/><circle cx="704.3" cy="328.3" r="1.85"/><circle cx="710.4" cy="332.2" r="1.85"/><circle cx="716.4" cy="306.8" r="1.85"/><circle cx="722.4" cy="317.2" r="1.85"/></g>
<g fill="none" stroke="#ccc" stroke-width="1">
<path d="M738.8,308 H744.2 V297.2 H755.3"/>
<path d="M738.8,316.5 H749.6 V315.3 H755.3"/>
<path d="M738.8,321.3 H750.2 V333.2 H755.3"/>
<path d="M738.5,358.8 H755.3"/>
<path d="M738.5,396.7 H755.3"/>
</g>
<text x="759.8" y="301.5" font-size="12" fill="#6D3E91" textLength="32" lengthAdjust="spacingAndGlyphs">Japan</text>
<text x="759.8" y="319.8" font-size="12" fill="#2C8465" textLength="30.2" lengthAdjust="spacingAndGlyphs">Spain</text>
<text x="759.8" y="337.8" font-size="12" fill="#4C6A9C" textLength="37" lengthAdjust="spacingAndGlyphs">France</text>
<text x="759.8" y="363.3" font-size="12" fill="#B13507" textLength="44.2" lengthAdjust="spacingAndGlyphs">Sweden</text>
<text x="759.8" y="401.3" font-size="12" fill="#996D39" textLength="68.6" lengthAdjust="spacingAndGlyphs">Netherlands</text>
<text class="b" x="16.6" y="560.8" font-size="13" fill="#5b5b5b" textLength="72" lengthAdjust="spacingAndGlyphs">Data source:</text>
<text x="92.3" y="560.8" font-size="13" fill="#5b5b5b" textLength="263" lengthAdjust="spacingAndGlyphs">World Inequality Database (WID.world) (2026)</text>
<text x="548.6" y="560.8" font-size="13" fill="#5b5b5b" textLength="284.3" lengthAdjust="spacingAndGlyphs">OurWorldinData.org/economic-inequality | CC BY</text>
<text class="b" x="16.6" y="580.5" font-size="13" fill="#5b5b5b" textLength="30.6" lengthAdjust="spacingAndGlyphs">Note:</text>
<text x="51.4" y="580.5" font-size="13" fill="#5b5b5b" textLength="710" lengthAdjust="spacingAndGlyphs">Income is measured before payment of taxes and non-pension benefits, but after the payment of public and private pensions.</text>
</svg></body></html>
